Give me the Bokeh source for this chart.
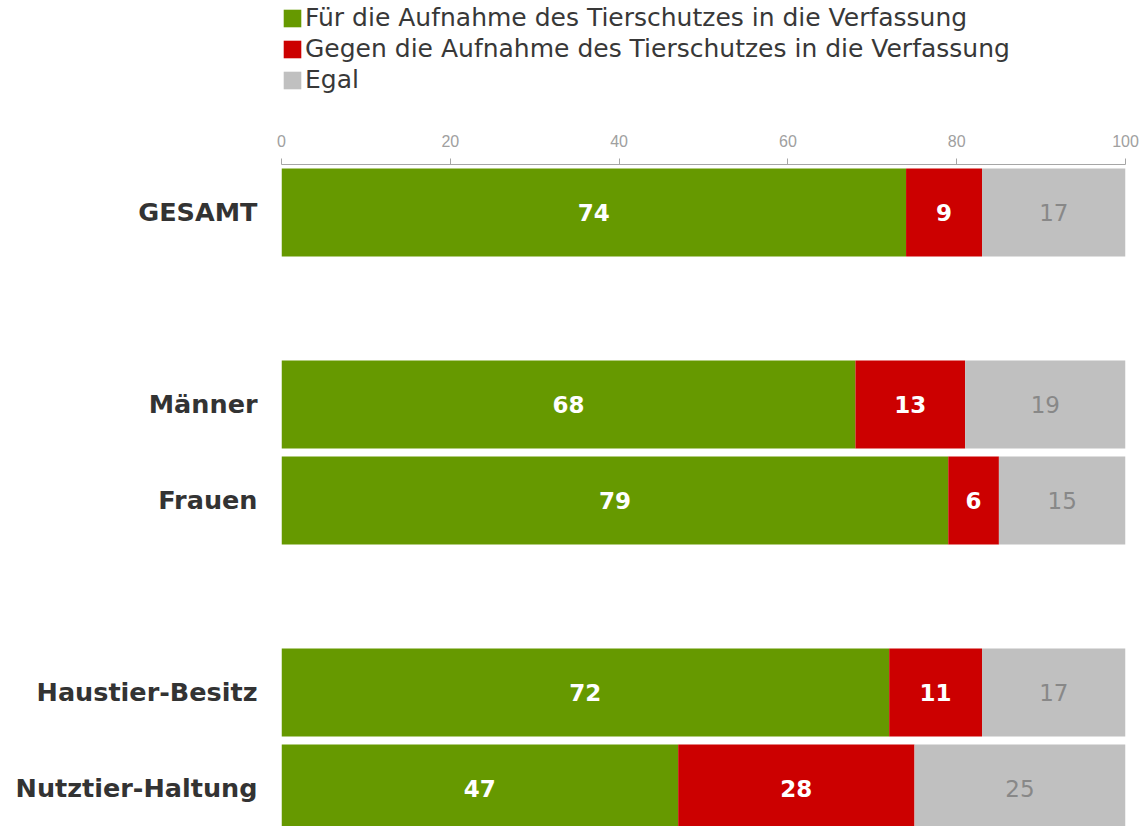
from bokeh.plotting import figure
from bokeh.layouts import column
from bokeh.models import ColumnDataSource, Range1d, FixedTicker, Legend, LegendItem
from bokeh.core.properties import value
from bokeh.embed import file_html
from bokeh.resources import INLINE

# ---- data ----
categories = ["GESAMT", "Männer", "Frauen", "Haustier-Besitz", "Nutztier-Haltung"]
positions = [0, 2, 3, 5, 6]
fuer = [74, 68, 79, 72, 47]
gegen = [9, 13, 6, 11, 28]
egal = [17, 19, 15, 17, 25]
series_labels = ["Für die Aufnahme des Tierschutzes in die Verfassung",
                 "Gegen die Aufnahme des Tierschutzes in die Verfassung",
                 "Egal"]
x_ticks = [0, 20, 40, 60, 80, 100]

GREEN = "#669900"
RED = "#CC0000"
GREY = "#C0C0C0"
FONT = "DejaVu Sans"

f_end = list(fuer)
g_end = [a + b for a, b in zip(fuer, gegen)]
e_end = [a + b + c for a, b, c in zip(fuer, gegen, egal)]

src = ColumnDataSource(dict(
    y=positions,
    f0=[0] * len(fuer), f1=f_end,
    g0=f_end, g1=g_end,
    e0=g_end, e1=e_end,
    fx=[a / 2 for a in f_end],
    gx=[(a + b) / 2 for a, b in zip(f_end, g_end)],
    ex=[(a + b) / 2 for a, b in zip(g_end, e_end)],
    ft=[str(v) for v in fuer],
    gt=[str(v) for v in gegen],
    et=[str(v) for v in egal],
))

W = 1140
LH = 100          # legend strip height
MH = 826 - LH     # main chart height

# ---- legend strip (swatch renderers sit outside the visible range) ----
pl = figure(width=W, height=LH, output_backend="svg", toolbar_location=None,
            x_range=Range1d(0, 1), y_range=Range1d(0, 1),
            x_axis_location=None, y_axis_location=None, min_border=0)
pl.outline_line_color = None
pl.xgrid.visible = False
pl.ygrid.visible = False


def swatch(color):
    s = ColumnDataSource(dict(y=[-10], left=[0], right=[1]))
    return pl.hbar(y="y", left="left", right="right", height=1, source=s,
                   fill_color=color, line_color=None)


lf, lg, le = swatch(GREEN), swatch(RED), swatch(GREY)
legend = Legend(items=[LegendItem(label=series_labels[0], renderers=[lf]),
                       LegendItem(label=series_labels[1], renderers=[lg]),
                       LegendItem(label=series_labels[2], renderers=[le])],
                location=(0, 6), orientation="vertical")
legend.glyph_width = 22
legend.glyph_height = 22
legend.label_standoff = 2
legend.spacing = 2
legend.padding = 0
legend.margin = 0
legend.border_line_color = None
legend.background_fill_alpha = 0
legend.label_text_font = FONT
legend.label_text_font_size = "25px"
legend.label_text_color = "#383838"
legend.label_height = 20
pl.add_layout(legend, "center")

# ---- main chart ----
p = figure(width=W, height=MH, output_backend="svg", toolbar_location=None,
           x_range=Range1d(0, 100), y_range=Range1d(6.396, -0.5),
           x_axis_location="above", min_border_left=281, min_border_right=W - 1125,
           min_border_top=164 - LH, min_border_bottom=0)
p.outline_line_color = None
p.xgrid.visible = False
p.ygrid.visible = False

bh = 0.917
p.hbar(y="y", left="f0", right="f1", height=bh, source=src, fill_color=GREEN, line_color=None)
p.hbar(y="y", left="g0", right="g1", height=bh, source=src, fill_color=RED, line_color=None)
p.hbar(y="y", left="e0", right="e1", height=bh, source=src, fill_color=GREY, line_color=None)

p.text(x="fx", y="y", text="ft", source=src, text_align="center", text_baseline="middle",
       text_color="white", text_font=value(FONT), text_font_style="bold", text_font_size="23px")
p.text(x="gx", y="y", text="gt", source=src, text_align="center", text_baseline="middle",
       text_color="white", text_font=value(FONT), text_font_style="bold", text_font_size="23px")
p.text(x="ex", y="y", text="et", source=src, text_align="center", text_baseline="middle",
       text_color="#888888", text_font=value(FONT), text_font_size="23px")

# x axis (above)
xa = p.xaxis[0]
xa.ticker = FixedTicker(ticks=x_ticks)
xa.axis_line_color = "#A6A6A6"
xa.major_tick_line_color = "#A6A6A6"
xa.major_tick_out = 6
xa.major_tick_in = 0
xa.minor_tick_line_color = None
xa.major_label_text_color = "#A0A0A0"
xa.major_label_text_font = "Liberation Sans"
xa.major_label_text_font_size = "16px"
xa.major_label_standoff = 12

# y axis
ya = p.yaxis[0]
ya.ticker = FixedTicker(ticks=positions)
ya.major_label_overrides = {pos: c for pos, c in zip(positions, categories)}
ya.axis_line_color = None
ya.major_tick_line_color = None
ya.minor_tick_line_color = None
ya.major_label_text_font = FONT
ya.major_label_text_font_style = "bold"
ya.major_label_text_font_size = "25.5px"
ya.major_label_text_color = "#333333"
ya.major_label_standoff = 18

layout = column(pl, p, spacing=0)
open("out.html", "w").write(file_html(layout, INLINE))
